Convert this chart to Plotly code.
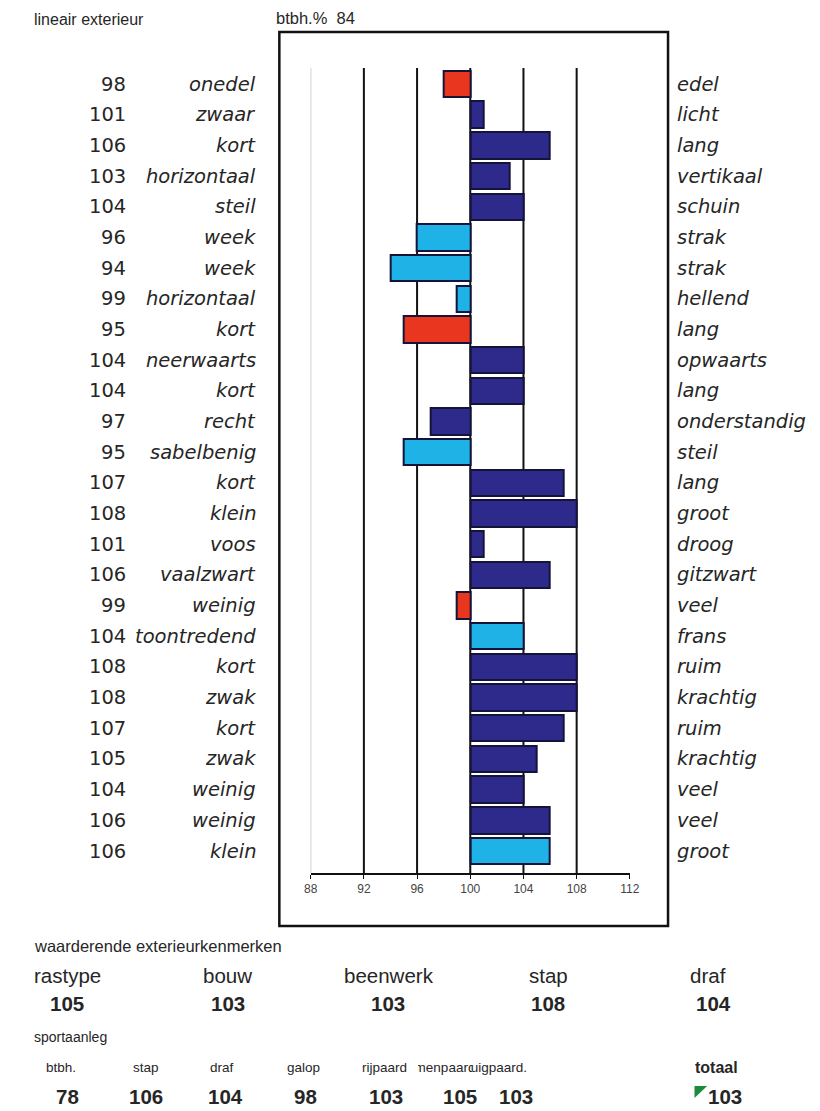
import plotly.graph_objects as go

# page body has an 8px margin, so the figure is sized to fit the 820x1111 window
W, H = 812, 1103
OFF = 8

# ---- data ----
values = [98, 101, 106, 103, 104, 96, 94, 99, 95, 104, 104, 97, 95,
          107, 108, 101, 106, 99, 104, 108, 108, 107, 105, 104, 106, 106]
left_labels = ["onedel", "zwaar", "kort", "horizontaal", "steil", "week", "week",
               "horizontaal", "kort", "neerwaarts", "kort", "recht", "sabelbenig",
               "kort", "klein", "voos", "vaalzwart", "weinig", "toontredend", "kort",
               "zwak", "kort", "zwak", "weinig", "weinig", "klein"]
right_labels = ["edel", "licht", "lang", "vertikaal", "schuin", "strak", "strak",
                "hellend", "lang", "opwaarts", "lang", "onderstandig", "steil",
                "lang", "groot", "droog", "gitzwart", "veel", "frans", "ruim",
                "krachtig", "ruim", "krachtig", "veel", "veel", "groot"]
groups = ["r", "d", "d", "d", "d", "l", "l", "l", "r", "d", "d", "d", "l",
          "d", "d", "d", "d", "r", "l", "d", "d", "d", "d", "d", "d", "l"]
base_value = 100
tick_values = [88, 92, 96, 100, 104, 108, 112]
grid_values = [88, 92, 96, 100, 104, 108]

header_title = "lineair exterieur"
header_btbh = "btbh.%&nbsp;&nbsp;84"

waard_title = "waarderende exterieurkenmerken"
waard_labels = ["rastype", "bouw", "beenwerk", "stap", "draf"]
waard_values = [105, 103, 103, 108, 104]

sport_title = "sportaanleg"
sport_labels = ["btbh.", "stap", "draf", "galop", "rijpaard", "menpaard", "tuigpaard."]
sport_values = [78, 106, 104, 98, 103, 105, 103]
total_label = "totaal"
total_value = 103

# ---- style ----
colors = {"r": "#e8361f", "d": "#2e2a8c", "l": "#1fb2e6"}
FONT = "Liberation Sans, Arial, sans-serif"
ROWFONT = "DejaVu Sans, sans-serif"
TXT = "#262626"


def px(x):
    return (x - OFF) / W


def py(y):
    return 1 - (y - OFF) / H


rows = list(range(len(values)))
row0_px, pitch = 84.0, 30.68
top_px, bot_px = 68.0, 873.0
y_top = (top_px - row0_px) / pitch
y_bot = (bot_px - row0_px) / pitch

fig = go.Figure()
fig.add_trace(go.Bar(
    y=rows,
    x=[v - base_value for v in values],
    base=base_value,
    orientation="h",
    width=0.86,
    marker=dict(color=[colors[g] for g in groups],
                line=dict(color="#14143a", width=2)),
    hoverinfo="skip",
))

shapes = []
for g in grid_values:
    shapes.append(dict(type="line", xref="x", yref="y domain", x0=g, x1=g, y0=0, y1=1,
                       layer="below",
                       line=dict(color="#999999" if g == 88 else "#111111",
                                 width=1 if g == 88 else 2)))
# outer frame
shapes.append(dict(type="rect", xref="paper", yref="paper",
                   x0=px(278), x1=px(675), y0=py(926), y1=py(32),
                   line=dict(color="#111111", width=2.5)))
# green marker triangle
shapes.append(dict(type="path", xref="paper", yref="paper",
                   path=f"M {px(702)} {py(1086)} L {px(715)} {py(1086)} L {px(702)} {py(1098)} Z",
                   fillcolor="#1a8c3c", line=dict(width=0)))

ann = []


def add(x, y, text, size, anchor="center", font=FONT, yref="paper", **kw):
    d = dict(x=px(x), y=(py(y) if yref == "paper" else y), xref="paper", yref=yref,
             text=text, xanchor=anchor, yanchor="middle", showarrow=False,
             font=dict(family=font, size=size, color=TXT))
    d.update(kw)
    ann.append(d)


for i in rows:
    add(123, i, str(values[i]), 19.5, "right", ROWFONT, yref="y")
    add(256, i, f"<i>{left_labels[i]}</i>", 19.5, "right", ROWFONT, yref="y")
    add(682, i, f"<i>{right_labels[i]}</i>", 19.5, "left", ROWFONT, yref="y")

add(25, 19, header_title, 16, "left")
add(273, 18, header_btbh, 16.5, "left")

add(25, 946, waard_title, 16.5, "left")
waard_lab_x = [62, 225, 390, 553, 716]
waard_val_x = [61, 226, 389, 552, 721]
for lx, vx, lab, val in zip(waard_lab_x, waard_val_x, waard_labels, waard_values):
    add(lx, 975, lab, 20.5)
    add(vx, 1003, f"<b>{val}</b>", 20.5)

add(25, 1037, sport_title, 14, "left")
sport_lab_x = [55, 142, 219, 303, 385, 447, 502]
sport_val_x = [62, 142, 223, 305, 387, 463, 520]
for lx, vx, lab, val in zip(sport_lab_x, sport_val_x, sport_labels, sport_values):
    extra = {}
    if lab == "menpaard":
        extra = dict(width=54, align="center")
    if lab == "tuigpaard.":
        extra = dict(width=56, align="right")
    add(lx, 1067, lab, 13.5, **extra)
    add(vx, 1096, f"<b>{val}</b>", 20.5)
add(725, 1067, f"<b>{total_label}</b>", 16)
add(733, 1096, f"<b>{total_value}</b>", 20.5)

fig.update_layout(
    width=W, height=H,
    margin=dict(l=0, r=0, t=0, b=0),
    paper_bgcolor="white", plot_bgcolor="rgba(0,0,0,0)",
    showlegend=False,
    bargap=0,
    shapes=shapes,
    annotations=ann,
    xaxis=dict(domain=[px(310), px(636)], range=[88, 112], tickvals=tick_values,
               showgrid=False, zeroline=False, showline=True, linecolor="#111111",
               linewidth=2, ticks="outside", ticklen=4, tickcolor="#111111",
               tickfont=dict(family=FONT, size=12, color="#444444"),
               anchor="y", fixedrange=True),
    yaxis=dict(domain=[py(bot_px), py(top_px)], range=[y_bot, y_top], visible=False,
               fixedrange=True),
)

fig.write_html("out.html")
